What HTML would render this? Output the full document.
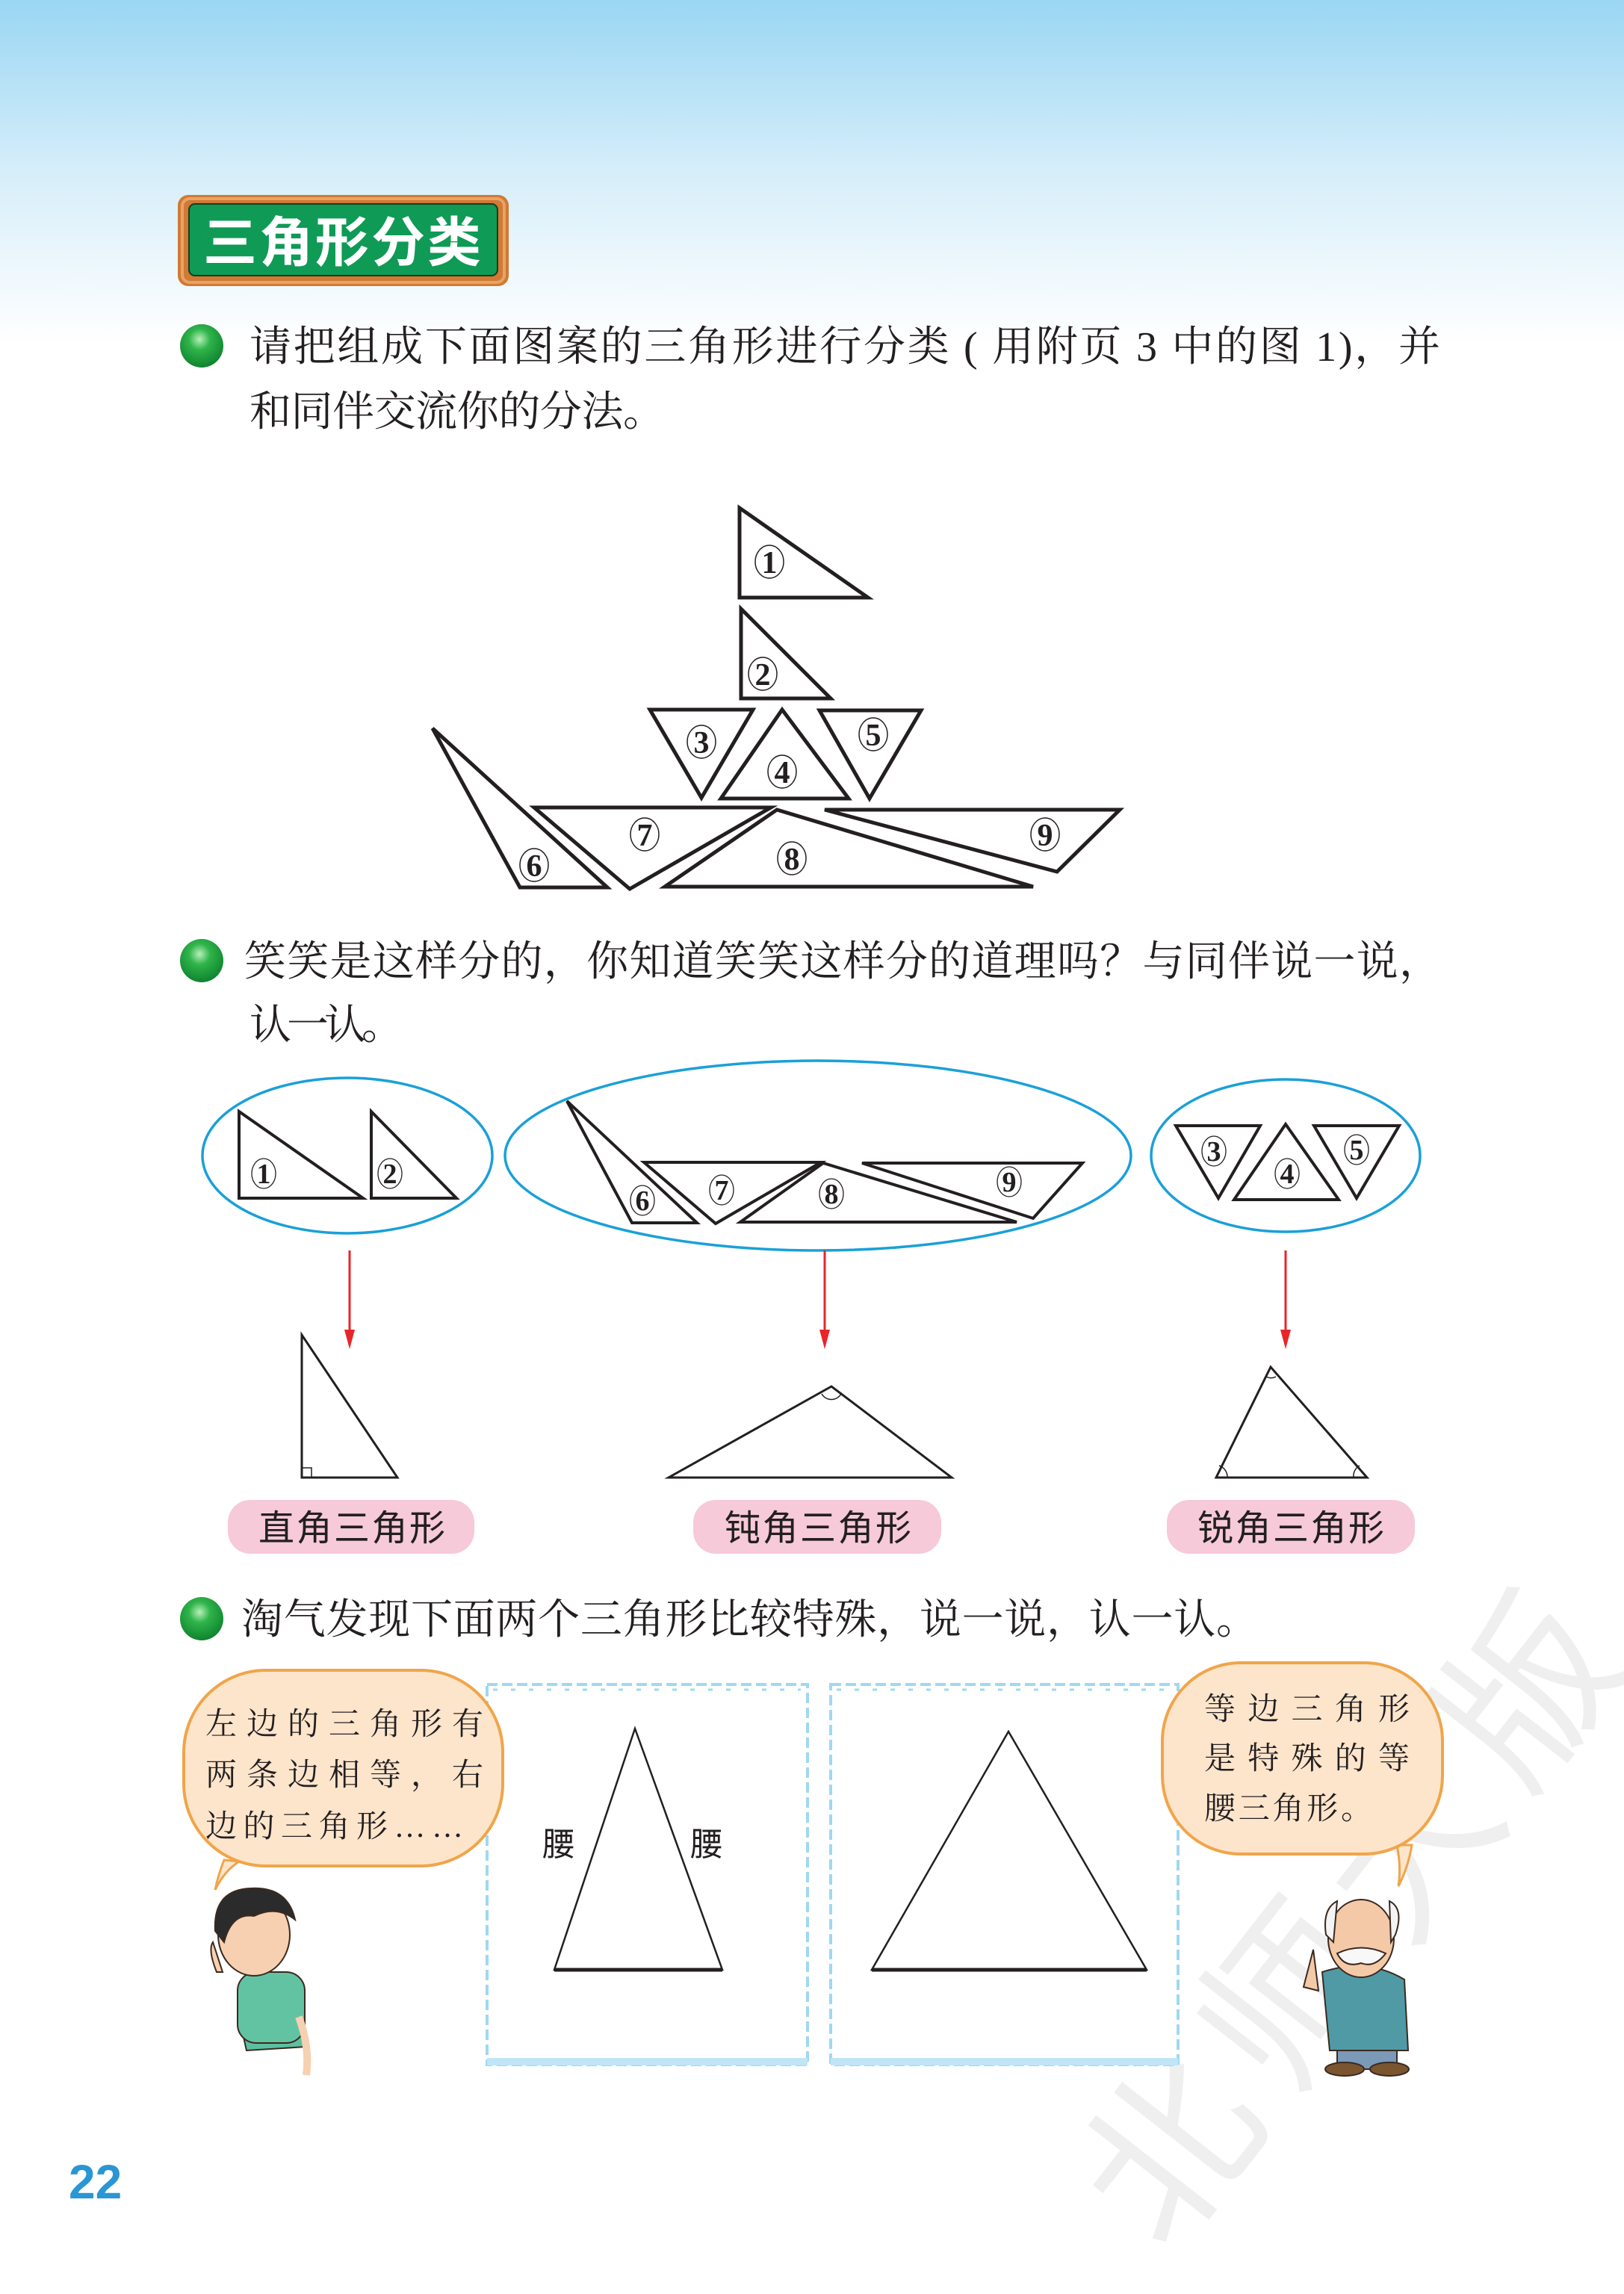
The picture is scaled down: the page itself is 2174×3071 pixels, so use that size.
<!DOCTYPE html>
<html><head><meta charset="utf-8"><style>
html,body{margin:0;padding:0;background:#fff}
svg{display:block}
.t{font-family:"Liberation Serif","Noto Serif CJK SC",serif;fill:#231f20}
.s{font-family:"Liberation Sans","Noto Sans CJK SC",sans-serif;fill:#231f20}
.n{font-family:"Liberation Serif",serif;fill:#231f20;text-anchor:middle;font-weight:bold}
</style></head><body>
<svg width="2174" height="3071" viewBox="0 0 2174 3071" xmlns="http://www.w3.org/2000/svg">
<defs>
<linearGradient id="sky" x1="0" y1="0" x2="0" y2="1">
<stop offset="0" stop-color="#9ad6f3"/><stop offset="0.5" stop-color="#d6eefa"/><stop offset="1" stop-color="#ffffff"/>
</linearGradient>
<radialGradient id="ball" cx="0.45" cy="0.35" r="0.7">
<stop offset="0" stop-color="#b8f0b8"/><stop offset="0.35" stop-color="#2fb44a"/><stop offset="1" stop-color="#0b7d2c"/>
</radialGradient>
</defs>
<rect x="0" y="0" width="2174" height="3071" fill="#fff"/>
<rect x="0" y="0" width="2174" height="460" fill="url(#sky)"/>

<!-- watermark -->
<text x="0" y="0" transform="translate(1560,3020) rotate(-52)" font-family="Noto Sans CJK SC,sans-serif" font-size="230" fill="#efefef" letter-spacing="30">北师大版</text>

<!-- title -->
<rect x="238" y="261" width="443" height="122" rx="14" fill="#d07a33"/>
<rect x="244" y="266" width="431" height="112" rx="10" fill="none" stroke="#e9a266" stroke-width="4"/>
<rect x="253" y="273" width="413" height="96" rx="8" fill="#0f9a55" stroke="#1b3a22" stroke-width="2"/>
<text x="272" y="350" font-family="Noto Sans CJK SC,sans-serif" font-weight="bold" font-size="72" fill="#fff" textLength="372">三角形分类</text>

<!-- section 1 -->
<circle cx="270" cy="463" r="29" fill="url(#ball)"/>
<text class="t" x="334" y="483" font-size="56" textLength="1594" lengthAdjust="spacing">请把组成下面图案的三角形进行分类 ( 用附页 3 中的图 1)，并</text>
<text class="t" x="334" y="570" font-size="56" textLength="556" lengthAdjust="spacing">和同伴交流你的分法。</text>

<g fill="none" stroke="#231f20" stroke-width="5" stroke-linejoin="miter">
<polygon points="990,680 990,800 1162,800"/>
<polygon points="992,815 992,935 1112,935"/>
<polygon points="870,950 1008,950 939,1068"/>
<polygon points="1047,950 965,1069 1136,1069"/>
<polygon points="1097,951 1233,951 1164,1069"/>
<polygon points="579,975 696,1188 813,1188"/>
<polygon points="715,1081 1032,1081 843,1190"/>
<polygon points="1040,1084 890,1187 1383,1187"/>
<polygon points="1104,1084 1499,1084 1415,1167"/>
</g>
<g fill="none" stroke="#231f20" stroke-width="1.5">
<ellipse cx="1030" cy="752" rx="19" ry="22"/><ellipse cx="1021" cy="902" rx="19" ry="22"/>
<ellipse cx="939" cy="993" rx="19" ry="22"/><ellipse cx="1047" cy="1033" rx="19" ry="22"/>
<ellipse cx="1169" cy="983" rx="19" ry="22"/><ellipse cx="715" cy="1158" rx="19" ry="22"/>
<ellipse cx="863" cy="1117" rx="19" ry="22"/><ellipse cx="1060" cy="1149" rx="19" ry="22"/>
<ellipse cx="1399" cy="1117" rx="19" ry="22"/>
</g>
<g class="n" font-size="42">
<text x="1030" y="767">1</text><text x="1021" y="917">2</text><text x="939" y="1008">3</text>
<text x="1047" y="1048">4</text><text x="1169" y="998">5</text><text x="715" y="1173">6</text>
<text x="863" y="1132">7</text><text x="1060" y="1164">8</text><text x="1399" y="1132">9</text>
</g>

<!-- section 2 -->
<circle cx="270" cy="1286" r="29" fill="url(#ball)"/>
<text class="t" x="327" y="1306" font-size="56" textLength="1602" lengthAdjust="spacing">笑笑是这样分的，你知道笑笑这样分的道理吗？与同伴说一说，</text>
<text class="t" x="334" y="1391" font-size="56" textLength="206" lengthAdjust="spacing">认一认。</text>

<g fill="none" stroke="#1aa0d8" stroke-width="3.5">
<ellipse cx="465" cy="1547" rx="194" ry="104"/>
<ellipse cx="1095" cy="1547" rx="419" ry="127"/>
<ellipse cx="1721" cy="1547" rx="180" ry="102"/>
</g>
<g fill="none" stroke="#231f20" stroke-width="4">
<polygon points="320,1488 320,1604 486,1604"/>
<polygon points="497,1488 497,1604 611,1604"/>
<polygon points="759,1474 846,1637 933,1637"/>
<polygon points="862,1556 1099,1556 958,1638"/>
<polygon points="1102,1557 991,1636 1361,1636"/>
<polygon points="1154,1557 1449,1557 1383,1631"/>
<polygon points="1574,1507 1687,1507 1631,1604"/>
<polygon points="1721,1505 1652,1606 1792,1606"/>
<polygon points="1759,1507 1873,1507 1816,1604"/>
</g>
<g fill="none" stroke="#231f20" stroke-width="1.3">
<ellipse cx="353" cy="1571" rx="16" ry="20"/><ellipse cx="522" cy="1571" rx="16" ry="20"/>
<ellipse cx="860" cy="1607" rx="16" ry="20"/><ellipse cx="966" cy="1593" rx="16" ry="20"/>
<ellipse cx="1113" cy="1598" rx="16" ry="20"/><ellipse cx="1351" cy="1582" rx="16" ry="20"/>
<ellipse cx="1625" cy="1541" rx="16" ry="20"/><ellipse cx="1723" cy="1571" rx="16" ry="20"/>
<ellipse cx="1816" cy="1539" rx="16" ry="20"/>
</g>
<g class="n" font-size="38">
<text x="353" y="1584">1</text><text x="522" y="1584">2</text><text x="860" y="1620">6</text>
<text x="966" y="1606">7</text><text x="1113" y="1611">8</text><text x="1351" y="1595">9</text>
<text x="1625" y="1554">3</text><text x="1723" y="1584">4</text><text x="1816" y="1552">5</text>
</g>

<!-- arrows -->
<g stroke="#e8262a" stroke-width="3" fill="#e8262a">
<line x1="468" y1="1674" x2="468" y2="1785"/><polygon points="461,1780 475,1780 468,1806" stroke="none"/>
<line x1="1104" y1="1674" x2="1104" y2="1785"/><polygon points="1097,1780 1111,1780 1104,1806" stroke="none"/>
<line x1="1721" y1="1674" x2="1721" y2="1785"/><polygon points="1714,1780 1728,1780 1721,1806" stroke="none"/>
</g>
<g fill="none" stroke="#231f20" stroke-width="3">
<polygon points="404,1787 404,1978 532,1978"/>
<polyline points="404,1965 417,1965 417,1978" stroke-width="1.5"/>
<polygon points="1113,1856 895,1978 1274,1978"/>
<path d="M1100,1866 A15,15 0 0 0 1126,1866" stroke-width="1.5"/>
<polygon points="1701,1830 1628,1978 1830,1978"/>
<path d="M1695,1843 A14,14 0 0 0 1708,1843" stroke-width="1.5"/>
<path d="M1632,1962 A16,16 0 0 1 1643,1978" stroke-width="1.5"/>
<path d="M1820,1962 A16,16 0 0 0 1812,1978" stroke-width="1.5"/>
</g>
<g fill="#f6cad8">
<rect x="305" y="2008" width="330" height="72" rx="30"/>
<rect x="928" y="2008" width="332" height="72" rx="30"/>
<rect x="1562" y="2008" width="332" height="72" rx="30"/>
<rect x="694" y="2655" width="325" height="71" rx="30"/>
<rect x="1181" y="2655" width="329" height="71" rx="30"/>
</g>
<g class="s" font-size="48">
<text x="346" y="2062" textLength="250">直角三角形</text>
<text x="970" y="2062" textLength="250">钝角三角形</text>
<text x="1603" y="2062" textLength="250">锐角三角形</text>
<text x="732" y="2708" textLength="250">等腰三角形</text>
<text x="1220" y="2708" textLength="250">等边三角形</text>
</g>

<!-- section 3 -->
<circle cx="270" cy="2167" r="29" fill="url(#ball)"/>
<text class="t" x="323" y="2187" font-size="56" textLength="1361" lengthAdjust="spacing">淘气发现下面两个三角形比较特殊，说一说，认一认。</text>

<!-- cards -->
<g fill="#fff" stroke="#9fd8f1" stroke-width="4" stroke-dasharray="14,6">
<rect x="652" y="2255" width="429" height="509"/>
<rect x="1112" y="2255" width="465" height="509"/>
</g>
<rect x="652" y="2755" width="429" height="10" fill="#bfe5f6"/>
<rect x="1112" y="2755" width="465" height="10" fill="#bfe5f6"/>
<g stroke="#9fd8f1" stroke-width="3" fill="none">
<path d="M660,2262 h412 M1120,2262 h448" stroke-dasharray="6,18"/>
</g>
<g fill="none" stroke="#231f20" stroke-width="2.5">
<polygon points="850,2314 742,2637 967,2637"/>
<polygon points="1350,2318 1167,2637 1535,2637"/>
</g>
<line x1="742" y1="2637" x2="967" y2="2637" stroke="#231f20" stroke-width="5"/>
<line x1="1167" y1="2637" x2="1535" y2="2637" stroke="#231f20" stroke-width="5"/>
<text class="s" x="726" y="2484" font-size="44">腰</text>
<text class="s" x="924" y="2484" font-size="44">腰</text>

<!-- bubbles -->
<path d="M300,2490 Q292,2510 288,2530 Q300,2505 320,2492 Z" fill="#fde5cc" stroke="#f0a54a" stroke-width="3"/>
<rect x="246" y="2236" width="427" height="262" rx="110" fill="#fde5cc" stroke="#f0a54a" stroke-width="4"/>
<text class="t" x="275" y="2322" font-size="42" textLength="372" lengthAdjust="spacing">左边的三角形有</text>
<text class="t" x="275" y="2390" font-size="42" textLength="372" lengthAdjust="spacing">两条边相等，右</text>
<text class="t" x="275" y="2459" font-size="42" textLength="345" lengthAdjust="spacing">边的三角形……</text>

<path d="M1870,2470 Q1876,2500 1872,2525 Q1885,2500 1890,2470 Z" fill="#fde5cc" stroke="#f0a54a" stroke-width="3"/>
<rect x="1556" y="2226" width="375" height="256" rx="105" fill="#fde5cc" stroke="#f0a54a" stroke-width="4"/>
<text class="t" x="1612" y="2302" font-size="42" textLength="275" lengthAdjust="spacing">等边三角形</text>
<text class="t" x="1612" y="2368" font-size="42" textLength="275" lengthAdjust="spacing">是特殊的等</text>
<text class="t" x="1612" y="2435" font-size="42" textLength="225" lengthAdjust="spacing">腰三角形。</text>

<!-- boy -->
<g stroke="#3a2a20" stroke-width="2">
<path d="M320,2700 L400,2690 L410,2740 L330,2745 Z" fill="#5cc0a0"/>
<rect x="318" y="2640" width="90" height="95" rx="25" fill="#62c3a3"/>
<ellipse cx="340" cy="2590" rx="48" ry="55" fill="#f6d0b0"/>
<path d="M288,2585 Q285,2530 335,2528 Q385,2525 395,2570 Q370,2550 340,2565 Q310,2560 300,2600 Z" fill="#2b2b2b"/>
<path d="M290,2640 Q278,2610 285,2600 L298,2640 Z" fill="#f6d0b0"/>
<path d="M400,2700 Q415,2740 410,2778" fill="none" stroke="#f6d0b0" stroke-width="10"/>
</g>
<!-- old man -->
<g stroke="#3a2a20" stroke-width="2">
<path d="M1770,2640 Q1830,2620 1880,2650 L1885,2745 L1780,2745 Z" fill="#4f9aa4"/>
<rect x="1790" y="2745" width="80" height="25" fill="#7a9ab8"/>
<ellipse cx="1800" cy="2770" rx="26" ry="9" fill="#7a5530"/>
<ellipse cx="1860" cy="2770" rx="26" ry="9" fill="#7a5530"/>
<ellipse cx="1822" cy="2595" rx="44" ry="52" fill="#f4c9a8"/>
<path d="M1775,2590 Q1770,2555 1790,2545 L1785,2600 Z M1868,2590 Q1880,2555 1860,2545 L1862,2600 Z" fill="#f4f4f4"/>
<path d="M1790,2615 Q1822,2600 1855,2615 Q1840,2635 1822,2628 Q1800,2635 1790,2615 Z" fill="#f8f8f8"/>
<path d="M1745,2660 L1758,2610 L1765,2665 Z" fill="#f4c9a8"/>
</g>

<text x="92" y="2943" font-family="Liberation Sans,sans-serif" font-weight="bold" font-size="64" fill="#2a96d3">22</text>
</svg>
</body></html>
